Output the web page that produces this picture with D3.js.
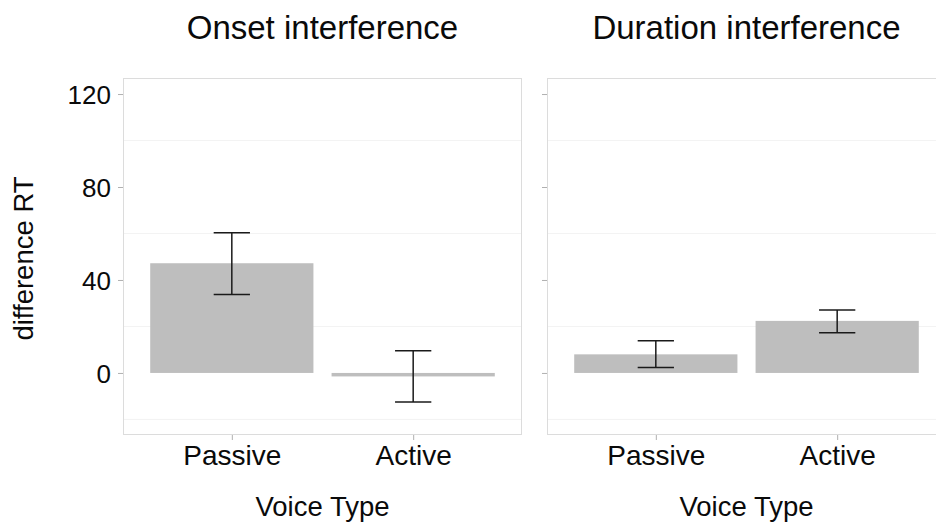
<!DOCTYPE html>
<html>
<head>
<meta charset="utf-8">
<script src="https://cdn.jsdelivr.net/npm/d3@7"></script>
<style>
  html, body { margin: 0; padding: 0; background: #fff; }
  svg { display: block; font-family: "Liberation Sans", Arial, Helvetica, sans-serif; }
</style>
</head>
<body>
<svg id="chart" width="936" height="524"></svg>
<script>
// ---- data ----
const facets = ["Onset interference", "Duration interference"];
const voiceTypes = ["Passive", "Active"];
const onsetMeans = [47.2, -1.5];
const onsetLower = [33.8, -12.5];
const onsetUpper = [60.3, 9.6];
const durationMeans = [8.0, 22.4];
const durationLower = [2.3, 17.3];
const durationUpper = [13.8, 27.1];
const yTicks = [0, 40, 80, 120];
const yMinorTicks = [-20, 20, 60, 100];
const yDomain = [-26.7, 126.9];
const xTitle = "Voice Type";
const yTitle = "difference RT";

const seriesByFacet = [
  { means: onsetMeans, lower: onsetLower, upper: onsetUpper },
  { means: durationMeans, lower: durationLower, upper: durationUpper }
];

// ---- layout ----
const svg = d3.select("#chart");
const panelTop = 78, panelBottom = 435, panelW = 399;
const panelLefts = [123, 547];
const textColor = "#0a0a0a";

const y = d3.scaleLinear().domain(yDomain).range([panelBottom, panelTop]);

facets.forEach((facet, fi) => {
  const x0 = panelLefts[fi];
  const x = d3.scalePoint().domain(voiceTypes).range([x0, x0 + panelW]).padding(0.6);
  const step = x.step();
  const barW = step * 0.9;
  const capW = step * 0.2;
  const s = seriesByFacet[fi];
  const rows = voiceTypes.map((v, i) => ({ v, m: s.means[i], lo: s.lower[i], hi: s.upper[i] }));

  const g = svg.append("g");

  // minor grid
  g.selectAll("line.minor").data(yMinorTicks).join("line")
    .attr("x1", x0).attr("x2", x0 + panelW)
    .attr("y1", d => y(d)).attr("y2", d => y(d))
    .attr("stroke", "#f3f3f3").attr("stroke-width", 1);

  // bars
  g.selectAll("rect.bar").data(rows).join("rect")
    .attr("x", d => x(d.v) - barW / 2)
    .attr("width", barW)
    .attr("y", d => y(Math.max(0, d.m)))
    .attr("height", d => Math.abs(y(d.m) - y(0)))
    .attr("fill", "#bebebe");

  // error bars
  const eb = g.selectAll("g.eb").data(rows).join("g");
  eb.append("line")
    .attr("x1", d => x(d.v)).attr("x2", d => x(d.v))
    .attr("y1", d => y(d.lo)).attr("y2", d => y(d.hi));
  eb.append("line")
    .attr("x1", d => x(d.v) - capW / 2).attr("x2", d => x(d.v) + capW / 2)
    .attr("y1", d => y(d.hi)).attr("y2", d => y(d.hi));
  eb.append("line")
    .attr("x1", d => x(d.v) - capW / 2).attr("x2", d => x(d.v) + capW / 2)
    .attr("y1", d => y(d.lo)).attr("y2", d => y(d.lo));
  eb.selectAll("line").attr("stroke", "#1a1a1a").attr("stroke-width", 1.5);

  // panel border
  g.append("rect")
    .attr("x", x0 + 0.5).attr("y", panelTop + 0.5)
    .attr("width", panelW - 1).attr("height", panelBottom - panelTop - 1)
    .attr("fill", "none").attr("stroke", "#dcdcdc").attr("stroke-width", 1);

  // y axis
  const yAxis = d3.axisLeft(y).tickValues(yTicks).tickSize(5).tickPadding(7)
    .tickFormat(fi === 0 ? d3.format("d") : () => "");
  const ya = g.append("g").attr("transform", `translate(${x0},0)`).call(yAxis);
  ya.select(".domain").remove();
  ya.selectAll(".tick line").attr("stroke", "#b0b0b0");
  ya.selectAll(".tick text").attr("fill", textColor).style("font-size", "26px")
    .attr("dy", "0.36em");

  // x axis
  const xAxis = d3.axisBottom(x).tickSize(5).tickPadding(5);
  const xa = g.append("g").attr("transform", `translate(0,${panelBottom})`).call(xAxis);
  xa.select(".domain").remove();
  xa.selectAll(".tick line").attr("stroke", "#b0b0b0");
  xa.selectAll(".tick text").attr("fill", textColor).style("font-size", "28px")
    .attr("dy", null).attr("y", 30);

  // x title
  g.append("text")
    .attr("x", x0 + panelW / 2).attr("y", 515.5)
    .attr("text-anchor", "middle").attr("fill", textColor)
    .style("font-size", "27.5px").text(xTitle);

  // facet title
  g.append("text")
    .attr("x", x0 + panelW / 2).attr("y", 38.5)
    .attr("text-anchor", "middle").attr("fill", textColor)
    .style("font-size", "33px").text(facet);
});

// y title
svg.append("text")
  .attr("transform", `translate(33,${(panelTop + panelBottom) / 2 + 2}) rotate(-90)`)
  .attr("text-anchor", "middle").attr("fill", textColor)
  .style("font-size", "27.5px").text(yTitle);
</script>
</body>
</html>
